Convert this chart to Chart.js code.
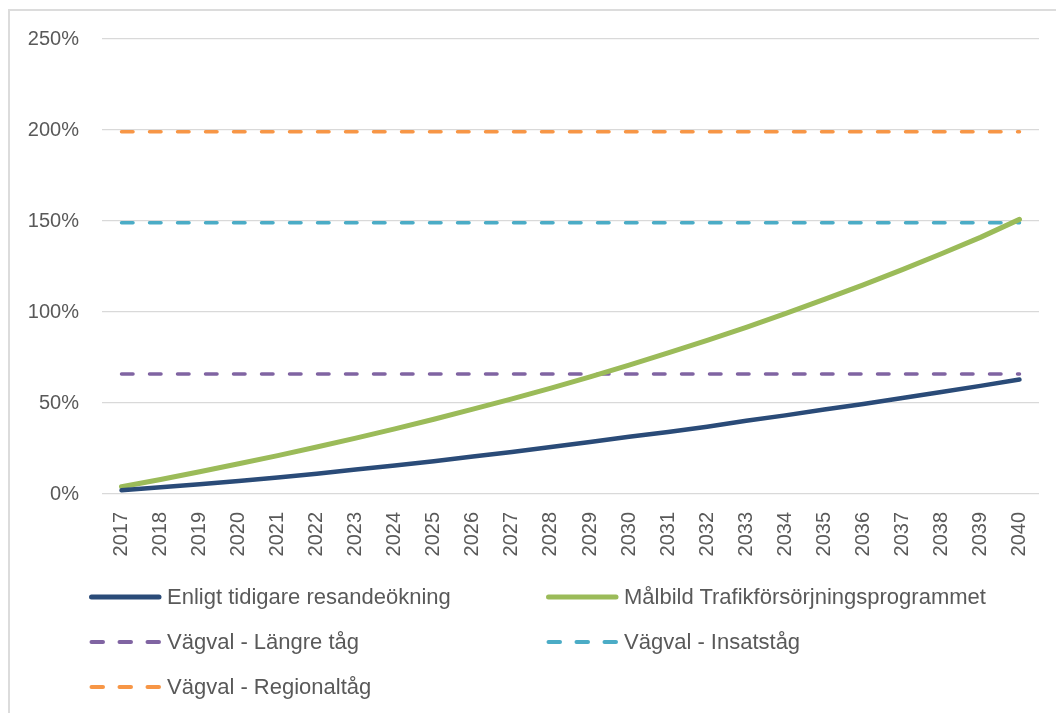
<!DOCTYPE html>
<html>
<head>
<meta charset="utf-8">
<script src="https://cdn.jsdelivr.net/npm/chart.js@4.4.1/dist/chart.umd.min.js"></script>
<style>
  html, body { margin: 0; padding: 0; background: #ffffff; }
  body { width: 1056px; height: 713px; position: relative; overflow: hidden; font-family: 'Liberation Sans', Arial, sans-serif; }
  #frame { position: absolute; left: 8px; top: 9px; width: 1200px; height: 900px; border-left: 2px solid #dcdcdc; border-top: 2px solid #dcdcdc; }
  #chart { position: absolute; left: 0; top: 0; }
  #legend { position: absolute; left: 0; top: 0; width: 1056px; height: 713px; pointer-events: none; }
  .item { position: absolute; height: 30px; display: flex; align-items: center; color: #595959; font-size: 22px; white-space: nowrap; }
  .item svg { display: block; margin-right: 5px; }
</style>
</head>
<body>
<div id="frame"></div>
<canvas id="chart" width="1056" height="570"></canvas>
<div id="legend"></div>
<script>
const years = ['2017','2018','2019','2020','2021','2022','2023','2024','2025','2026','2027','2028',
               '2029','2030','2031','2032','2033','2034','2035','2036','2037','2038','2039','2040'];

const previousGrowth = [2.0, 3.7, 5.4, 7.2, 9.1, 11.1, 13.4, 15.6, 18.0, 20.6, 23.1, 25.8,
                        28.6, 31.4, 34.1, 37.0, 40.2, 43.2, 46.4, 49.5, 52.7, 56.0, 59.4, 62.9];

const targetProgramme = [4.0, 8.0, 12.2, 16.6, 21.1, 25.8, 30.7, 35.8, 41.1, 46.6, 52.3, 58.2,
                         64.4, 70.8, 77.5, 84.4, 91.6, 99.1, 106.9, 114.9, 123.3, 132.0, 141.0, 150.9];

const longerTrains = [66, 66, 66, 66, 66, 66, 66, 66, 66, 66, 66, 66,
                      66, 66, 66, 66, 66, 66, 66, 66, 66, 66, 66, 66];

const extraTrains = [149, 149, 149, 149, 149, 149, 149, 149, 149, 149, 149, 149,
                     149, 149, 149, 149, 149, 149, 149, 149, 149, 149, 149, 149];

const regionalTrains = [199, 199, 199, 199, 199, 199, 199, 199, 199, 199, 199, 199,
                        199, 199, 199, 199, 199, 199, 199, 199, 199, 199, 199, 199];

const seriesNames = ['Enligt tidigare resandeökning', 'Målbild Trafikförsörjningsprogrammet',
                     'Vägval - Längre tåg', 'Vägval - Insatståg', 'Vägval - Regionaltåg'];

const yTicks = [0, 50, 100, 150, 200, 250];

const FONT = "'Liberation Sans', Arial, sans-serif";
Chart.defaults.font.family = FONT;
Chart.defaults.font.size = 20;
Chart.defaults.color = '#595959';

const solid = (label, data, color, width) => ({
  label, data, borderColor: color, backgroundColor: color, borderWidth: width,
  pointRadius: 0, borderCapStyle: 'round', borderJoinStyle: 'round', tension: 0, fill: false
});
const dashed = (label, data, color) => ({
  label, data, borderColor: color, backgroundColor: color, borderWidth: 3.5,
  borderDash: [11.5, 16.5], pointRadius: 0, borderCapStyle: 'round', tension: 0, fill: false
});

const datasets = [
  solid(seriesNames[0], previousGrowth, '#2A4B78', 4.5),
  solid(seriesNames[1], targetProgramme, '#9BBB59', 5),
  dashed(seriesNames[2], longerTrains, '#8064A2'),
  dashed(seriesNames[3], extraTrains, '#4BACC6'),
  dashed(seriesNames[4], regionalTrains, '#F79646')
];

new Chart(document.getElementById('chart'), {
  type: 'line',
  data: { labels: years, datasets },
  options: {
    responsive: false,
    animation: false,
    layout: { padding: { left: 0, top: 39, right: 17, bottom: 0 } },
    plugins: { legend: { display: false }, tooltip: { enabled: false }, title: { display: false } },
    scales: {
      x: {
        type: 'category',
        offset: true,
        grid: { display: false, drawTicks: false },
        border: { display: false },
        ticks: { autoSkip: false, maxRotation: 90, minRotation: 90, padding: 18, color: '#595959', font: { size: 20 } },
        afterFit(axis) { axis.height = 76; axis.paddingLeft = 0; axis.paddingRight = 0; }
      },
      y: {
        min: 0, max: 250,
        afterBuildTicks(axis) { axis.ticks = yTicks.map(v => ({ value: v })); },
        grid: { color: '#d9d9d9', lineWidth: 1.3, drawTicks: false },
        border: { display: false },
        ticks: { padding: 23, color: '#595959', font: { size: 20 }, callback: v => v + '%' },
        afterFit(axis) { axis.width = 102; axis.paddingTop = 0; axis.paddingBottom = 0; }
      }
    }
  }
});

// HTML legend in two columns
const legend = document.getElementById('legend');
const cols = [89, 546];
const rows = [597, 642, 687];
datasets.forEach((ds, i) => {
  const item = document.createElement('div');
  item.className = 'item';
  item.style.left = cols[i % 2] + 'px';
  item.style.top = (rows[Math.floor(i / 2)] - 15) + 'px';
  const isDash = !!ds.borderDash;
  const sw = isDash ? 4 : 5;
  const dashAttr = isDash ? ' stroke-dasharray="11.5 16.5"' : '';
  item.innerHTML = '<svg width="73" height="10"><line x1="2.5" y1="5" x2="70" y2="5" stroke="' + ds.borderColor +
    '" stroke-width="' + sw + '" stroke-linecap="round"' + dashAttr + '/></svg><span></span>';
  item.querySelector('span').textContent = ds.label;
  legend.appendChild(item);
});
</script>
</body>
</html>
